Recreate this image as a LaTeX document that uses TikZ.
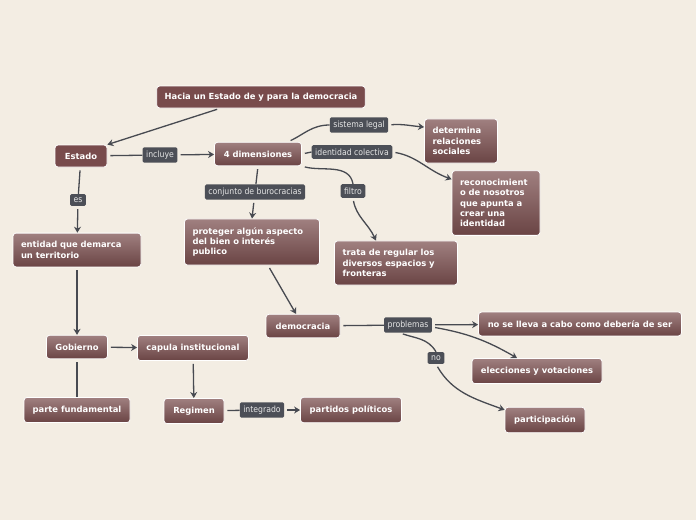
\documentclass[tikz,border=0pt]{standalone}
\usepackage{fontspec}
\setmainfont{DejaVu Sans}
\newfontfamily\condfont{DejaVu Sans Condensed}
\usepackage{tikz}
\usetikzlibrary{arrows.meta, positioning}

\definecolor{fondo}{HTML}{F3EDE3}
\definecolor{temaarriba}{HTML}{A08080}
\definecolor{temaabajo}{HTML}{6A4444}
\definecolor{temaplano}{HTML}{784B4C}
\definecolor{etiqueta}{HTML}{4C4F57}
\definecolor{etiquetatexto}{HTML}{E6E6E6}
\definecolor{linea}{HTML}{474A51}

\begin{document}
\begin{tikzpicture}[
    x=1pt, y=-1pt,
    topic/.style={rectangle, rounded corners=3pt, draw=white, line width=0.8pt, top color=temaarriba, bottom color=temaabajo, text=white, font=\bfseries\fontsize{8.4}{10.3}\selectfont, minimum height=22pt, inner xsep=8pt, inner ysep=8.5pt, align=left},
    main/.style={rectangle, rounded corners=3pt, draw=white, line width=0.8pt, fill=temaplano, text=white, font=\bfseries\fontsize{8.4}{10.3}\selectfont, minimum height=22pt, inner xsep=8pt},
    tag/.style={rectangle, rounded corners=1.5pt, fill=etiqueta, text=etiquetatexto, font=\condfont\fontsize{8.6}{9}\selectfont, inner xsep=3.5pt, inner ysep=3.5pt},
    line/.style={draw=linea, line width=1.3pt, shorten <=3pt},
    link/.style={line, -{Stealth[length=6pt, width=7pt]}}
]
    \fill[fondo] (0,0) rectangle (696,520);
    \useasboundingbox (0,0) rectangle (696,520);

    % Top of the map
    \node[main] (titulo) at (261,97) {Hacia un Estado de y para la democracia};
    \node[main, minimum width=52pt] (estado) at (81,156) {Estado};
    \node[topic, minimum width=87pt] (dims) at (258,154) {4 dimensiones};

    % The four dimensions
    \node[topic, text width=57pt] (determina) at (461,141) {determina\\relaciones\\sociales};
    \node[topic, text width=72pt] (reconoc) at (496,203) {reconocimient\\o de nosotros\\que apunta a\\crear una\\identidad};
    \node[topic, text width=119pt] (proteger) at (252,242) {proteger algún aspecto\\del bien o interés\\publico};
    \node[topic, text width=107pt] (trata) at (396,263) {trata de regular los\\diversos espacios y\\fronteras};

    % Democracia branch
    \node[topic, minimum width=74pt] (democracia) at (303,326) {democracia};
    \node[topic, minimum width=203pt] (nollevaacabo) at (580,324) {no se lleva a cabo como debería de ser};
    \node[topic, minimum width=130pt] (elecciones) at (537,371) {elecciones y votaciones};
    \node[topic, minimum width=80pt] (participacion) at (545,420) {participación};

    % Estado branch
    \node[topic, text width=112pt] (entidad) at (77,250) {entidad que demarca\\un territorio};
    \node[topic, minimum width=61pt] (gobierno) at (77,347) {Gobierno};
    \node[topic, minimum width=111pt] (capula) at (193,348) {capula institucional};
    \node[topic, minimum width=106pt] (parte) at (77,410) {parte fundamental};
    \node[topic, minimum width=60pt] (regimen) at (194,411) {Regimen};
    \node[topic, minimum width=101pt] (partidos) at (351,410) {partidos políticos};

    % Connector labels
    \node[tag] (incluye) at (160,155) {incluye};
    \node[tag] (sislegal) at (359,125) {sistema legal};
    \node[tag] (identidad) at (352,152) {identidad colectiva};
    \node[tag] (conjunto) at (255,192) {conjunto de burocracias};
    \node[tag] (filtro) at (353,191) {filtro};
    \node[tag] (es) at (78,200) {es};
    \node[tag] (problemas) at (408,325) {problemas};
    \node[tag] (no) at (436,358) {no};
    \node[tag] (integrado) at (262,410) {integrado};

    % Connections
    \draw[link] ([xshift=-41pt]titulo.south) -- (estado.north east);
    \draw[line] (estado) -- (incluye);
    \draw[link] (incluye) -- (dims);
    \draw[line] ([xshift=-14pt]dims.north east) to[out=25, in=180] (sislegal.west);
    \draw[link] (sislegal.east) to[out=5, in=175] ([yshift=14pt]determina.west);
    \draw[line] (dims.east) -- (identidad.west);
    \draw[link] (identidad.east) to[out=-10, in=160] ([yshift=-9pt]reconoc.north west);
    \draw[line] (dims.south east) to[out=-15, in=100] (filtro.north);
    \draw[link] (filtro.south) to[out=-80, in=115] ([xshift=-20pt]trata.north);
    \draw[line] (dims.south) -- (conjunto);
    \draw[link] (conjunto) -- (proteger.north);
    \draw[link] ([xshift=16pt]proteger.south) -- ([xshift=-7pt]democracia.north);

    \draw[line] (democracia) -- (problemas);
    \draw[link] (problemas) -- (nollevaacabo);
    \draw[link] ([yshift=-2pt]problemas.east) to[out=-10, in=150] ([xshift=-20pt]elecciones.north);
    \draw[line] ([xshift=-8pt]problemas.south) to[out=-20, in=120] (no.north);
    \draw[link] (no.south) to[out=-60, in=160] ([yshift=-3pt]participacion.north west);

    \draw[line] (estado) -- (es);
    \draw[link] (es) -- (entidad);
    \draw[link] (entidad) -- (gobierno);
    \draw[line] (gobierno) -- (parte);
    \draw[link] (gobierno) -- (capula);
    \draw[link] (capula) -- (regimen);
    \draw[line] (regimen) -- (integrado);
    \draw[link] (integrado) -- (partidos);

\end{tikzpicture}
\end{document}
